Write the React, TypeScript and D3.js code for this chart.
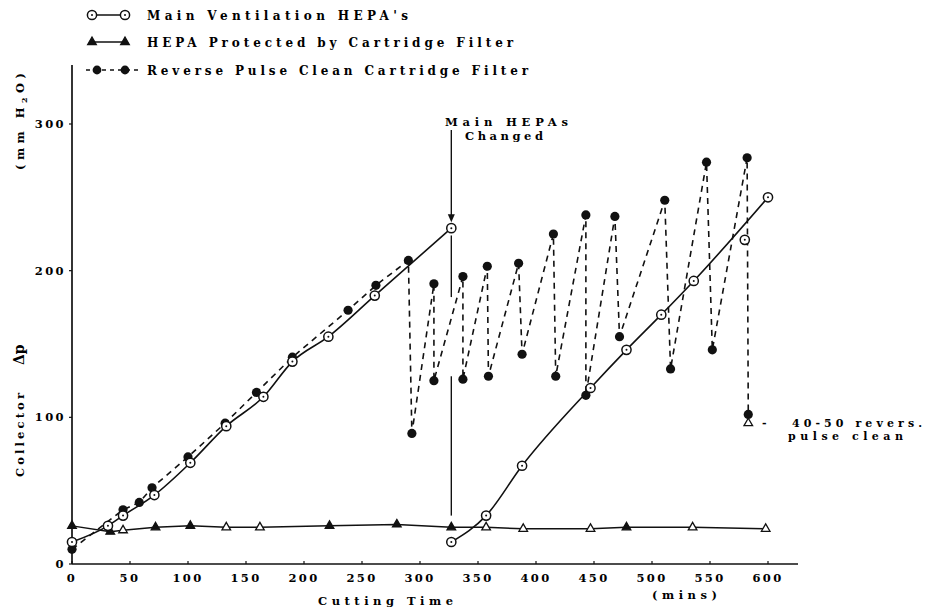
import React from 'react';
import * as d3 from 'd3';

// ---------- data (minutes, mm H2O) ----------
const xTickValues = [0, 50, 100, 150, 200, 250, 300, 350, 400, 450, 500, 550, 600];
const yTickValues = [0, 100, 200, 300];

// Main Ventilation HEPA's, before change
const mainHepaBefore: [number, number][] = [
  [0, 15], [31, 26], [44, 33], [71, 47], [102, 69], [133, 94], [165, 114],
  [190, 138], [221, 155], [261, 183], [327, 229],
];
// Main Ventilation HEPA's, after change ([x, y, onCurve])
const mainHepaAfter: [number, number, number][] = [
  [327, 15, 1], [357, 33, 1], [388, 67, 1], [447, 120, 1], [478, 146, 1],
  [508, 170, 1], [536, 193, 1], [580, 221, 0], [600, 250, 1],
];
// HEPA Protected by Cartridge Filter ([x, y, filled])
const hepaProtected: [number, number, number][] = [
  [0, 26, 1], [33, 22, 1], [44, 23, 0], [72, 25, 1], [102, 26, 1], [133, 25, 0],
  [162, 25, 0], [222, 26, 1], [280, 27, 1], [327, 25, 1], [357, 25, 0],
  [389, 24, 0], [447, 24, 0], [478, 25, 1], [535, 25, 0], [598, 24, 0],
];
// Reverse Pulse Clean Cartridge Filter
const pulseClean: [number, number][] = [
  [0, 10], [44, 37], [58, 42], [69, 52], [100, 73], [132, 96], [159, 117],
  [190, 141], [238, 173], [262, 190], [290, 207], [293, 89], [312, 191],
  [312, 125], [337, 196], [337, 126], [358, 203], [359, 128], [385, 205],
  [388, 143], [415, 225], [417, 128], [443, 238], [443, 115], [468, 237],
  [472, 155], [511, 248], [516, 133], [547, 274], [552, 146], [582, 277],
  [583, 102],
];
// "Main HEPAs Changed" event
const changeTime = 327;
const changeDropSegments: [number, number][] = [[224, 182], [128, 33]];
// "40-50 reverse pulse clean" marker
const pulseNote: [number, number] = [583, 96];

const legendLabels = [
  "Main Ventilation HEPA's",
  'HEPA Protected by Cartridge Filter',
  'Reverse Pulse Clean Cartridge Filter',
];

const FONT = "'DejaVu Serif', 'Liberation Serif', serif";
const INK = '#111';

export default function App() {
  const x = d3.scaleLinear().domain([0, 600]).range([72, 768]);
  const y = d3.scaleLinear().domain([0, 300]).range([564, 124]);

  const smooth = d3
    .line<[number, number]>()
    .x((d) => x(d[0]))
    .y((d) => y(d[1]))
    .curve(d3.curveMonotoneX);
  const straight = d3
    .line<[number, number]>()
    .x((d) => x(d[0]))
    .y((d) => y(d[1]));

  const tri = d3.symbol(d3.symbolTriangle, 32)() || '';

  const afterCurve = mainHepaAfter
    .filter((d) => d[2] === 1)
    .map((d) => [d[0], d[1]] as [number, number]);

  const openCircle = (cx: number, cy: number, key: string) => (
    <g key={key}>
      <circle cx={cx} cy={cy} r={4.6} fill="#fff" stroke={INK} strokeWidth={1.5} />
      <circle cx={cx} cy={cy} r={1} fill={INK} />
    </g>
  );
  const triangle = (cx: number, cy: number, filled: boolean, key: string) => (
    <path
      key={key}
      d={tri}
      transform={`translate(${cx},${cy})`}
      fill={filled ? INK : '#fff'}
      stroke={INK}
      strokeWidth={1.3}
    />
  );

  const textStyle = { fontFamily: FONT, fontWeight: 700 as const, fill: '#000' };

  return (
    <svg
      width={929}
      height={607}
      style={{ position: 'absolute', left: 0, top: 0, background: '#fff' }}
    >
      <rect x={0} y={0} width={929} height={607} fill="#fff" />

      {/* ---------- legend ---------- */}
      <g>
        <line x1={92} y1={15} x2={125} y2={15} stroke={INK} strokeWidth={1.5} />
        {openCircle(92, 15, 'l1a')}
        {openCircle(125, 15, 'l1b')}
        <text x={147} y={19.5} fontSize={12} textLength={261} lengthAdjust="spacing" {...textStyle}>
          {legendLabels[0]}
        </text>

        <line x1={92} y1={42} x2={125} y2={42} stroke={INK} strokeWidth={1.5} />
        {triangle(92, 42, true, 'l2a')}
        {triangle(125, 42, true, 'l2b')}
        <text x={147} y={46.5} fontSize={12} textLength={366} lengthAdjust="spacing" {...textStyle}>
          {legendLabels[1]}
        </text>

        <line x1={86} y1={70} x2={141} y2={70} stroke={INK} strokeWidth={1.5} strokeDasharray="4 4" />
        <circle cx={97} cy={70} r={4.4} fill={INK} />
        <circle cx={125} cy={70} r={4.4} fill={INK} />
        <text x={147} y={74.5} fontSize={12} textLength={381} lengthAdjust="spacing" {...textStyle}>
          {legendLabels[2]}
        </text>
      </g>

      {/* ---------- axes ---------- */}
      <line x1={x(0)} y1={65} x2={x(0)} y2={y(0)} stroke={INK} strokeWidth={1.7} />
      <line x1={x(0)} y1={y(0)} x2={798} y2={y(0)} stroke={INK} strokeWidth={1.7} />
      {xTickValues.map((v) => (
        <g key={`xt${v}`}>
          <line x1={x(v)} y1={y(0)} x2={x(v)} y2={y(0) - 3} stroke={INK} strokeWidth={1.2} />
          <text x={x(v)} y={582} fontSize={11.5} textAnchor="middle" letterSpacing={2.4} {...textStyle}>
            {String(v)}
          </text>
        </g>
      ))}
      {yTickValues.map((v) => (
        <g key={`yt${v}`}>
          <line x1={x(0) - 3} y1={y(v)} x2={x(0)} y2={y(v)} stroke={INK} strokeWidth={1.2} />
          <text x={66} y={y(v) + 4} fontSize={11.5} textAnchor="end" letterSpacing={2.4} {...textStyle}>
            {String(v)}
          </text>
        </g>
      ))}

      {/* axis titles */}
      <text x={318} y={605} fontSize={11.5} textLength={135} lengthAdjust="spacing" {...textStyle}>
        Cutting Time
      </text>
      <text x={652} y={599} fontSize={11.5} textLength={65} lengthAdjust="spacing" {...textStyle}>
        (mins)
      </text>
      <g transform="translate(24,477) rotate(-90)">
        <text x={0} y={0} fontSize={11.5} textLength={84} lengthAdjust="spacing" {...textStyle}>
          Collector
        </text>
        <text x={112} y={0} fontSize={14} {...textStyle}>
          Δp
        </text>
        <text x={307} y={0} fontSize={11.5} textLength={97} lengthAdjust="spacing" {...textStyle}>
          (mm H<tspan fontSize={8} dy={3}>2</tspan><tspan dy={-3}>O)</tspan>
        </text>
      </g>

      {/* ---------- HEPA protected (triangles) ---------- */}
      <path
        d={straight(hepaProtected.map((d) => [d[0], d[1]] as [number, number])) || ''}
        fill="none"
        stroke={INK}
        strokeWidth={1.5}
      />

      {/* ---------- reverse pulse clean (dashed) ---------- */}
      <path
        d={straight(pulseClean) || ''}
        fill="none"
        stroke={INK}
        strokeWidth={1.6}
        strokeDasharray="6 5"
      />

      {/* ---------- main HEPA lines ---------- */}
      <path d={smooth(mainHepaBefore) || ''} fill="none" stroke={INK} strokeWidth={1.6} />
      <path d={smooth(afterCurve) || ''} fill="none" stroke={INK} strokeWidth={1.6} />

      {/* change event */}
      {changeDropSegments.map((s, i) => (
        <line
          key={`drop${i}`}
          x1={x(changeTime)}
          y1={y(s[0])}
          x2={x(changeTime)}
          y2={y(s[1])}
          stroke={INK}
          strokeWidth={1.4}
        />
      ))}
      <line x1={x(changeTime)} y1={130} x2={x(changeTime)} y2={y(229) - 12} stroke={INK} strokeWidth={1.4} />
      <path
        d={`M${x(changeTime) - 3.5},${y(229) - 14} L${x(changeTime) + 3.5},${y(229) - 14} L${x(changeTime)},${y(229) - 6} Z`}
        fill={INK}
      />
      <text x={445} y={126} fontSize={11.5} textLength={123} lengthAdjust="spacing" {...textStyle}>
        Main HEPAs
      </text>
      <text x={465} y={139.5} fontSize={11.5} textLength={78} lengthAdjust="spacing" {...textStyle}>
        Changed
      </text>

      {/* markers */}
      {hepaProtected.map((d, i) => triangle(x(d[0]), y(d[1]), d[2] === 1, `tp${i}`))}
      {pulseClean.map((d, i) => (
        <circle key={`pc${i}`} cx={x(d[0])} cy={y(d[1])} r={4.6} fill={INK} />
      ))}
      {mainHepaBefore.map((d, i) => openCircle(x(d[0]), y(d[1]), `mb${i}`))}
      {mainHepaAfter.map((d, i) => openCircle(x(d[0]), y(d[1]), `ma${i}`))}

      {/* pulse clean note */}
      {triangle(x(pulseNote[0]), y(pulseNote[1]), false, 'note')}
      <text x={762} y={427} fontSize={11} {...textStyle}>
        -
      </text>
      <text x={792} y={427} fontSize={11} textLength={130} lengthAdjust="spacing" {...textStyle}>
        40-50 revers.
      </text>
      <text x={788} y={439.5} fontSize={11} textLength={115} lengthAdjust="spacing" {...textStyle}>
        pulse clean
      </text>
    </svg>
  );
}
